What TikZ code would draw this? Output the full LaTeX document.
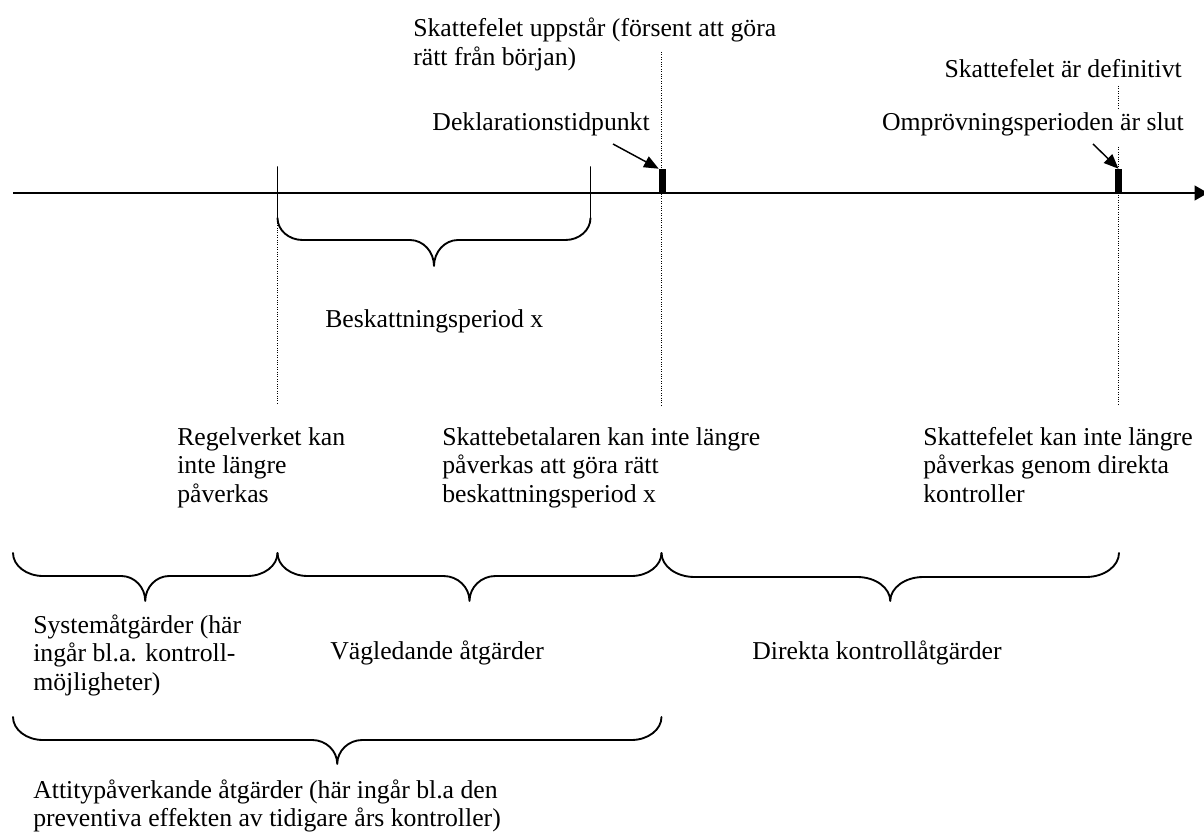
\documentclass[tikz,border=0pt]{standalone}
\usepackage{fontspec}
\setmainfont{Liberation Serif}
\usetikzlibrary{arrows.meta}

% left-aligned multi-line label whose baseline is the first line
\newcommand\stackleft[1]{{\renewcommand\arraystretch{1.08}\begin{tabular}[t]{@{}l@{}}#1\end{tabular}}}

% curly brace opening upwards: x1, x2, y of ends, y of bar, y of tip, end radius, tip radius
\newcommand\curlybrace[7]{%
  \draw[brace line]
    (#1,#3) .. controls (#1,{#3+0.55*(#4-#3)}) and ({#1+0.45*#6},#4) .. ({#1+#6},#4)
    -- ({(#1+#2)/2-#7},#4)
    .. controls ({(#1+#2)/2-0.45*#7},#4) and ({(#1+#2)/2},{#4+0.45*(#5-#4)}) .. ({(#1+#2)/2},#5)
    .. controls ({(#1+#2)/2},{#4+0.45*(#5-#4)}) and ({(#1+#2)/2+0.45*#7},#4) .. ({(#1+#2)/2+#7},#4)
    -- ({#2-#6},#4)
    .. controls ({#2-0.45*#6},#4) and (#2,{#3+0.55*(#4-#3)}) .. (#2,#3);}

\begin{document}
\begin{tikzpicture}[x=0.75pt,y=-0.75pt,
  lbl/.style={inner sep=0pt, anchor=base west, font=\fontsize{19.3pt}{20pt}\selectfont},
  lblr/.style={lbl, anchor=base east},
  brace line/.style={line width=1.4pt, line cap=round, line join=round},
  guide/.style={line width=0.8pt, densely dotted},
  axis/.style={line width=1.5pt, -{Triangle[length=10pt,width=11pt]}},
  tickmark/.style={fill=black, inner sep=0pt, minimum width=5.25pt, minimum height=18pt},
  pointer/.style={line width=1.1pt, -{Triangle[length=11pt,width=9pt]}}
]
\useasboundingbox (0,0) rectangle (1204,838);

% guide lines
\draw[guide] (277.5,218) -- (277.5,405);
\draw[guide] (661.5,52) -- (661.5,405);
\draw[guide] (1118.5,86) -- (1118.5,108);
\draw[guide] (1118.5,147) -- (1118.5,405);

% time axis
\coordinate (axisstart) at (13,193);
\coordinate (axisend) at (1208,193);
\draw[axis] (axisstart) -- (axisend);

% marks on the axis
\node[tickmark] (dekl) at (662.5,181) {};
\node[tickmark] (omp) at (1118.5,181) {};

% top labels
\node[lbl] (uppstar) at (413,37) {\stackleft{Skattefelet uppstår (försent att göra\\rätt från början)}};
\node[lblr] (definitivt) at (1182,78) {Skattefelet är definitivt};
\node[lblr] (dekltxt) at (650,131) {Deklarationstidpunkt};
\node[lblr] (omptxt) at (1184,131) {Omprövningsperioden är slut};

\coordinate (deklptr) at (613,144);
\coordinate (ompptr) at (1093,144);
\draw[pointer] (deklptr) -- (dekl.north west);
\draw[pointer] (ompptr) -- (omp.north);

% taxation period brace
\draw[brace line] (277.5,167) -- (277.5,218);
\draw[brace line] (590.5,167) -- (590.5,218);
\curlybrace{277.5}{590.5}{218}{240}{266}{25}{24}
\node[lbl] (period) at (325,327) {Beskattningsperiod x};

% middle labels
\node[lbl] (regel) at (177,445) {\stackleft{Regelverket kan\\inte längre\\påverkas}};
\node[lbl] (betalare) at (442,445) {\stackleft{Skattebetalaren kan inte längre\\påverkas att göra rätt\\beskattningsperiod x}};
\node[lbl] (kontroll) at (923,445) {\stackleft{Skattefelet kan inte längre\\påverkas genom direkta\\kontroller}};

% measure braces
\curlybrace{13}{277.5}{553}{576}{601}{30}{24}
\curlybrace{277.5}{661.5}{553}{576}{601}{30}{26}
\curlybrace{661.5}{1119}{553}{577}{601}{33}{33}
\node[lbl] (system) at (33,633) {\stackleft{Systemåtgärder (här\\ingår bl.a. kontroll-\\möjligheter)}};
\node[lbl] (vagled) at (330,659) {Vägledande åtgärder};
\node[lbl] (direkta) at (752,659) {Direkta kontrollåtgärder};

% attitude brace
\curlybrace{13}{661.5}{717}{740}{764}{30}{25}
\node[lbl] (attityd) at (33,798) {\stackleft{Attitypåverkande åtgärder (här ingår bl.a den\\preventiva effekten av tidigare års kontroller)}};
\end{tikzpicture}
\end{document}
